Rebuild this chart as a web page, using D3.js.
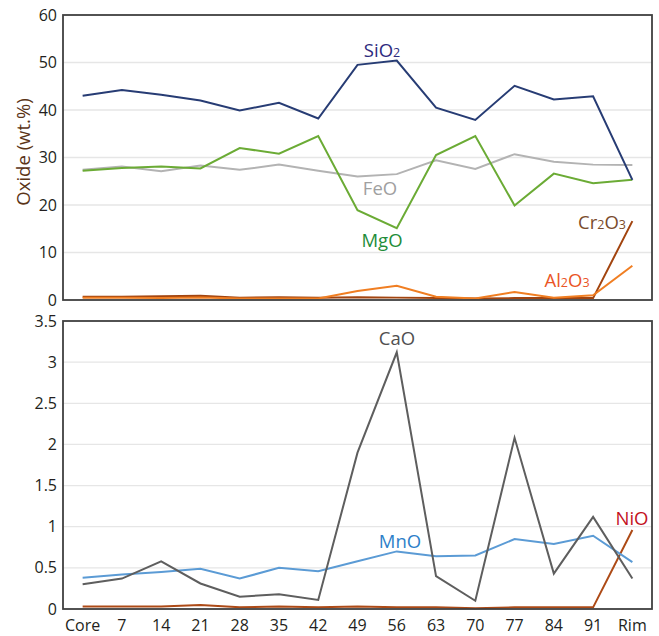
<!DOCTYPE html>
<html><head><meta charset="utf-8">
<script src="https://cdn.jsdelivr.net/npm/d3@7"></script>
<style>body{margin:0;background:#fff}svg{display:block}text{font-family:"Open Sans","Noto Sans",sans-serif}</style>
</head><body><svg id="c" width="659" height="636"></svg>
<script>
const categories = ["Core","7","14","21","28","35","42","49","56","63","70","77","84","91","Rim"];
const SiO2  = [43.0,44.2,43.2,42.0,39.9,41.5,38.2,49.5,50.4,40.5,37.9,45.1,42.2,42.9,25.3];
const MgO   = [27.2,27.8,28.1,27.7,32.0,30.8,34.5,18.9,15.1,30.5,34.5,19.9,26.6,24.6,25.3];
const FeO   = [27.4,28.1,27.1,28.3,27.4,28.5,27.2,26.0,26.5,29.4,27.6,30.7,29.1,28.5,28.4];
const Al2O3 = [0.5,0.5,0.4,0.5,0.3,0.3,0.3,1.9,3.0,0.7,0.3,1.7,0.5,1.0,7.2];
const Cr2O3 = [0.7,0.7,0.8,0.9,0.5,0.6,0.5,0.6,0.5,0.4,0.3,0.4,0.4,0.4,16.6];
const CaO   = [0.30,0.37,0.58,0.31,0.15,0.18,0.11,1.90,3.12,0.40,0.10,2.08,0.43,1.12,0.37];
const MnO   = [0.38,0.42,0.45,0.49,0.37,0.50,0.46,0.58,0.70,0.64,0.65,0.85,0.79,0.89,0.57];
const NiO   = [0.03,0.03,0.03,0.05,0.02,0.03,0.02,0.03,0.02,0.02,0.01,0.02,0.02,0.02,0.96];
const topTicks = [0,10,20,30,40,50,60];
const botTicks = [0,0.5,1,1.5,2,2.5,3,3.5];
const botTickLabels = ["0","0.5","1","1.5","2","2.5","3","3.5"];

const svg = d3.select("#c");
const L = 63, R = 652;
const x = d3.scalePoint().domain(categories).range([L, R]).padding(0.5);

function panel(y0, y1, dom, ticks, labels, series, texts){
  const y = d3.scaleLinear().domain(dom).range([y1, y0]);
  const g = svg.append("g");
  g.selectAll(".grid").data(ticks.filter(t => t > dom[0] && t < dom[1])).join("line")
    .attr("x1", L).attr("x2", R).attr("y1", d => y(d)).attr("y2", d => y(d))
    .attr("stroke", "#e6e6e6").attr("stroke-width", 1.3);
  const ax = g.append("g").attr("transform", `translate(${L},0)`)
    .call(d3.axisLeft(y).tickValues(ticks).tickSize(0).tickPadding(6).tickFormat((d,i) => labels ? labels[i] : d));
  ax.select(".domain").remove();
  ax.selectAll("text").attr("font-size", 16).attr("fill", "#231f20").attr("font-family", "'Open Sans',sans-serif");
  const line = d3.line().x((d,i) => x(categories[i])).y(d => y(d));
  series.forEach(s => {
    g.append("path").datum(s.v).attr("d", line).attr("fill", "none")
      .attr("stroke", s.c).attr("stroke-width", 2).attr("stroke-linejoin", "miter");
  });
  g.append("rect").attr("x", L).attr("y", y0).attr("width", R - L).attr("height", y1 - y0)
    .attr("fill", "none").attr("stroke", "#404040").attr("stroke-width", 1.8);
  texts.forEach(t => {
    const tx = g.append("text").attr("x", t.x).attr("y", t.y).attr("text-anchor", "middle")
      .attr("font-size", 18).attr("fill", t.c);
    t.parts.forEach(p => {
      tx.append("tspan").text(p[0]).attr("font-size", p[1] ? 12.5 : 18.5);
    });
  });
  return y;
}

panel(15, 300, [0,60], topTicks, null, [
  {v: FeO, c: "#b3b3b3"},
  {v: MgO, c: "#6bab35"},
  {v: SiO2, c: "#273c74"},
  {v: Cr2O3, c: "#a2440f"},
  {v: Al2O3, c: "#f07e22"}
], [
  {x: 382, y: 57, c: "#2e2b7e", parts: [["SiO",0],["2",1]]},
  {x: 380, y: 195, c: "#a0a0a0", parts: [["FeO",0]]},
  {x: 382, y: 247, c: "#1f8d3a", parts: [["MgO",0]]},
  {x: 602, y: 229, c: "#7a4b2c", parts: [["Cr",0],["2",1],["O",0],["3",1]]},
  {x: 567, y: 287, c: "#ea5526", parts: [["Al",0],["2",1],["O",0],["3",1]]}
]);

panel(321, 609, [0,3.5], botTicks, botTickLabels, [
  {v: NiO, c: "#ad4a16"},
  {v: MnO, c: "#5b9bd5"},
  {v: CaO, c: "#5e5e5e"}
], [
  {x: 397, y: 345, c: "#505050", parts: [["CaO",0]]},
  {x: 400, y: 548, c: "#2d7fc9", parts: [["MnO",0]]},
  {x: 632, y: 525, c: "#c3121e", parts: [["NiO",0]]}
]);

svg.append("g").selectAll("text").data(categories).join("text")
  .attr("x", d => x(d)).attr("y", 631).attr("text-anchor", "middle")
  .attr("font-size", 16).attr("fill", "#231f20").text(d => d);

svg.append("text").attr("transform", "translate(30,152) rotate(-90)")
  .attr("text-anchor", "middle").attr("font-size", 18.5).attr("fill", "#5a3317")
  .text("Oxide (wt.%)");
</script></body></html>
